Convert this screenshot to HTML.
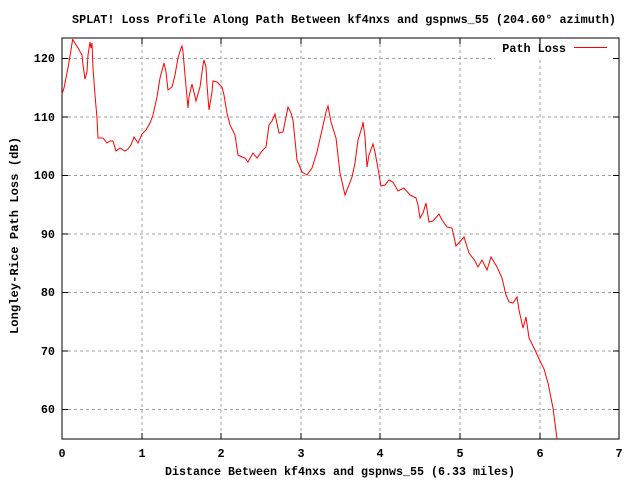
<!DOCTYPE html>
<html><head><meta charset="utf-8"><style>
html,body{margin:0;padding:0;background:#fff;}
svg text{font-family:"Liberation Mono",monospace;font-size:11.8px;font-weight:bold;fill:#000;}
</style></head><body>
<svg width="640" height="480" xmlns="http://www.w3.org/2000/svg">
<rect width="640" height="480" fill="#fff"/>
<g stroke="#a0a0a0" stroke-width="1" stroke-dasharray="3,3">
<line x1="62" y1="409.5" x2="619" y2="409.5"/>
<line x1="62" y1="351" x2="619" y2="351"/>
<line x1="62" y1="292.5" x2="619" y2="292.5"/>
<line x1="62" y1="234" x2="619" y2="234"/>
<line x1="62" y1="175.5" x2="619" y2="175.5"/>
<line x1="62" y1="117" x2="619" y2="117"/>
<line x1="62" y1="58.5" x2="495" y2="58.5"/>
<line x1="142" y1="38" x2="142" y2="439"/>
<line x1="221" y1="38" x2="221" y2="439"/>
<line x1="301" y1="38" x2="301" y2="439"/>
<line x1="380" y1="38" x2="380" y2="439"/>
<line x1="460" y1="38" x2="460" y2="439"/>
<line x1="540" y1="60" x2="540" y2="439"/>
</g>
<rect x="62" y="38" width="557" height="401" fill="none" stroke="#000" stroke-width="1"/>
<g stroke="#000">
<line x1="62" y1="409.5" x2="68" y2="409.5"/><line x1="619" y1="409.5" x2="613" y2="409.5"/>
<line x1="62" y1="351" x2="68" y2="351"/><line x1="619" y1="351" x2="613" y2="351"/>
<line x1="62" y1="292.5" x2="68" y2="292.5"/><line x1="619" y1="292.5" x2="613" y2="292.5"/>
<line x1="62" y1="234" x2="68" y2="234"/><line x1="619" y1="234" x2="613" y2="234"/>
<line x1="62" y1="175.5" x2="68" y2="175.5"/><line x1="619" y1="175.5" x2="613" y2="175.5"/>
<line x1="62" y1="117" x2="68" y2="117"/><line x1="619" y1="117" x2="613" y2="117"/>
<line x1="62" y1="58.5" x2="68" y2="58.5"/><line x1="619" y1="58.5" x2="613" y2="58.5"/>
<line x1="142" y1="439" x2="142" y2="433"/><line x1="142" y1="38" x2="142" y2="44"/>
<line x1="221" y1="439" x2="221" y2="433"/><line x1="221" y1="38" x2="221" y2="44"/>
<line x1="301" y1="439" x2="301" y2="433"/><line x1="301" y1="38" x2="301" y2="44"/>
<line x1="380" y1="439" x2="380" y2="433"/><line x1="380" y1="38" x2="380" y2="44"/>
<line x1="460" y1="439" x2="460" y2="433"/><line x1="460" y1="38" x2="460" y2="44"/>
<line x1="540" y1="439" x2="540" y2="433"/><line x1="540" y1="38" x2="540" y2="44"/>
</g>
<g text-anchor="end">
<text x="55" y="413">60</text><text x="55" y="355">70</text><text x="55" y="296">80</text>
<text x="55" y="238">90</text><text x="55" y="179">100</text><text x="55" y="121">110</text><text x="55" y="62">120</text>
</g>
<g text-anchor="middle">
<text x="62" y="457">0</text><text x="142" y="457">1</text><text x="221" y="457">2</text><text x="301" y="457">3</text>
<text x="380" y="457">4</text><text x="460" y="457">5</text><text x="540" y="457">6</text><text x="619" y="457">7</text>
</g>
<text x="72" y="23" textLength="544" lengthAdjust="spacingAndGlyphs">SPLAT! Loss Profile Along Path Between kf4nxs and gspnws_55 (204.60° azimuth)</text>
<text x="165" y="475" textLength="350" lengthAdjust="spacingAndGlyphs">Distance Between kf4nxs and gspnws_55 (6.33 miles)</text>
<text transform="translate(18,334) rotate(-90)" textLength="197" lengthAdjust="spacingAndGlyphs">Longley-Rice Path Loss (dB)</text>
<text x="566" y="52" text-anchor="end">Path Loss</text>
<line x1="574" y1="47.5" x2="607" y2="47.5" stroke="#f00" stroke-width="1"/>
<polyline fill="none" stroke="#f00" stroke-width="1" points="
62,94 64,88 68,68 71,50 72.7,39 73,40 78,48 82,55 83,65 85,79 87,72 88,55 90,42 91,48 92,43 93,68 95,95 97,118 98,138 103,138 107,143 110,141 113,141 116,151 120,148 125,151 128,149 131,145 134,137 138,143 142,134 146,130 150,123 153,115 157,97 160,78 164,63 166,72 168,90 172,87 175,75 178,58 181,48 182,46 183,52 185,75 188,108 189,97 192,84 196,101 200,87 203,65 204,60 206,67 207,85 209,110 212,92 213,81 217,82 222,87 224,95 227,113 230,125 235,135 238,155 242,157 245,158 248,162 253,153 257,158 262,151 266,147 269,125 272,121 275,114 279,133 283,132 286,117 288,107 291,113 293,120 297,160 302,172 307,175 312,168 317,152 322,130 326,112 328,106 331,122 336,138 340,173 345,195 352,177 355,163 358,140 362,127 363,122 365,137 367,167 369,155 373,144 375,152 377,163 381,186 385,185 389,180 393,182 398,191 404,188 410,195 416,198 418,205 420,218 423,213 426,203 429,222 433,221 439,214 442,220 447,227 452,228 456,246 464,237 469,253 475,261 478,267 482,260 487,270 491,257 497,267 502,278 506,295 509,302 513,303 517,297 519,310 523,328 526,317 529,338 535,350 540,361 544,369 548,383 553,408 557,439"/>
</svg>
</body></html>
